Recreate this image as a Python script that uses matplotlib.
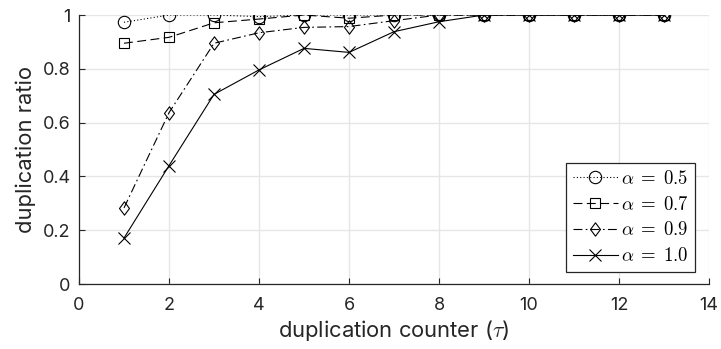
import matplotlib
matplotlib.use('Agg')
import matplotlib.pyplot as plt
from matplotlib.path import Path

plt.rcParams['font.family'] = ['Inter', 'DejaVu Sans']
plt.rcParams['mathtext.fontset'] = 'cm'

tau = [1, 2, 3, 4, 5, 6, 7, 8, 9, 10, 11, 12, 13]
ratio_05 = [0.973, 1.0, 1.0, 0.994, 1.0, 1.0, 1.0, 1.0, 1.0, 1.0, 1.0, 1.0, 1.0]
ratio_07 = [0.895, 0.917, 0.971, 0.985, 1.0, 0.988, 1.0, 1.0, 1.0, 1.0, 1.0, 1.0, 1.0]
ratio_09 = [0.283, 0.637, 0.895, 0.934, 0.954, 0.957, 0.979, 1.0, 1.0, 1.0, 1.0, 1.0, 1.0]
ratio_10 = [0.171, 0.44, 0.705, 0.796, 0.876, 0.861, 0.938, 0.975, 1.0, 1.0, 1.0, 1.0, 1.0]

diamond = Path([(0, 1), (0.75, 0), (0, -1), (-0.75, 0), (0, 1)],
               [Path.MOVETO, Path.LINETO, Path.LINETO, Path.LINETO, Path.CLOSEPOLY])

fig = plt.figure(figsize=(7.21, 3.49), dpi=100)
ax = fig.add_axes([0.1096, 0.1862, 0.8738, 0.7708])

kw = dict(color='black', markerfacecolor='none', linewidth=0.8, markeredgewidth=0.8)
ax.plot(tau, ratio_05, linestyle=(0, (1, 2)), marker='o', markersize=8.9, label=r'$\alpha\;=\;0.5$', **kw)
ax.plot(tau, ratio_07, linestyle=(0, (8, 4)), marker='s', markersize=6.7, label=r'$\alpha\;=\;0.7$', **kw)
ax.plot(tau, ratio_09, linestyle=(0, (8, 3, 1.5, 3)), marker=diamond, markersize=9.6, label=r'$\alpha\;=\;0.9$', **kw)
ax.plot(tau, ratio_10, linestyle='-', marker='x', markersize=8, label=r'$\alpha\;=\;1.0$', **kw)

ax.set_xlim(0, 14)
ax.set_ylim(0, 1)
ax.set_xticks(range(0, 15, 2))
ax.set_yticks([0, 0.2, 0.4, 0.6, 0.8, 1])
ax.set_yticklabels(['0', '0.2', '0.4', '0.6', '0.8', '1'])
ax.grid(True, color='#e6e6e6', linewidth=1)
ax.set_axisbelow(True)
for s in ['top', 'right']:
    ax.spines[s].set_visible(False)
for s in ['left', 'bottom']:
    ax.spines[s].set_color('#262626')
    ax.spines[s].set_linewidth(0.9)
ax.tick_params(direction='in', length=4, colors='#262626', labelsize=13)
ax.tick_params(axis='x', pad=9)
ax.tick_params(axis='y', pad=6)
ax.set_xlabel(r'duplication counter ($\tau$)', fontsize=15.8, color='#262626', labelpad=3)
ax.set_ylabel('duplication ratio', fontsize=15.8, color='#262626', labelpad=5)

leg = ax.legend(loc='lower right', numpoints=1, handlelength=2.4, fontsize=13.5,
                fancybox=False, edgecolor='#262626', framealpha=1,
                borderpad=0.35, labelspacing=0.42, handletextpad=0.15,
                borderaxespad=0, bbox_to_anchor=(0.978, 0.045))
leg.get_frame().set_linewidth(0.9)

fig.savefig('out.png', dpi=100)
